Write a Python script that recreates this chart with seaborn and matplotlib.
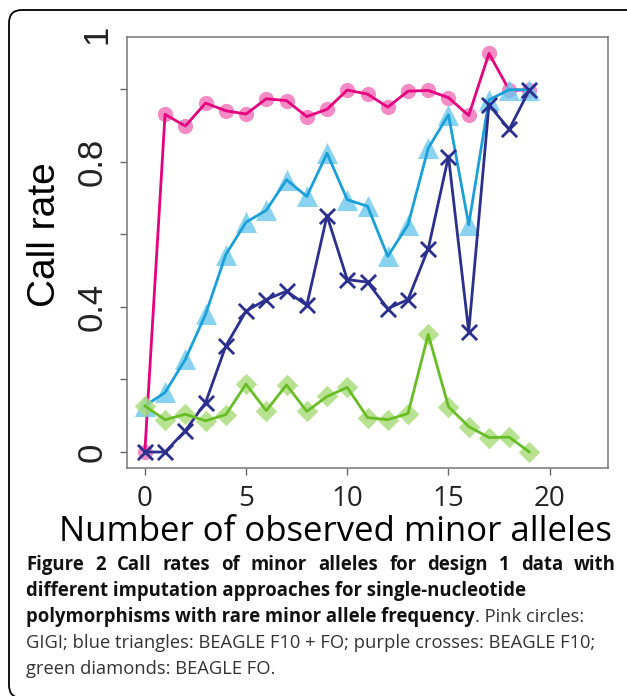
import numpy as np
import pandas as pd
import matplotlib
matplotlib.use('Agg')
import matplotlib.pyplot as plt
from matplotlib.patches import FancyBboxPatch
from matplotlib.transforms import IdentityTransform
import seaborn as sns

# ---- data ----
alleles = list(range(20))
gigi = [0.0, 0.930, 0.898, 0.961, 0.940, 0.931, 0.973, 0.968, 0.924, 0.944,
        0.997, 0.986, 0.950, 0.994, 0.996, 0.976, 0.927, 1.098, 0.997, 0.997]
beagle_f10_fo = [0.127, 0.164, 0.255, 0.379, 0.544, 0.633, 0.666, 0.750, 0.704, 0.823,
                 0.695, 0.677, 0.539, 0.626, 0.837, 0.929, 0.626, 0.970, 0.998, 0.998]
beagle_f10 = [0.0, 0.0, 0.059, 0.136, 0.292, 0.388, 0.420, 0.443, 0.404, 0.651,
              0.475, 0.468, 0.395, 0.420, 0.560, 0.814, 0.331, 0.956, 0.889, 0.998]
beagle_fo = [0.127, 0.089, 0.104, 0.086, 0.103, 0.187, 0.114, 0.185, 0.112, 0.153,
             0.178, 0.095, 0.089, 0.106, 0.324, 0.125, 0.070, 0.040, 0.041, 0.0]

methods = ['GIGI', 'BEAGLE F10 + FO', 'BEAGLE F10', 'BEAGLE FO']
line_colors = ['#E6007E', '#1A9FD9', '#2B2F8E', '#68BD25']
marker_colors = ['#F06EB8', '#6CC8EE', '#2B2F8E', '#A6DB77']
marker_shapes = ['o', '^', 'x', 'D']
marker_sizes = [120, 230, 120, 120]
marker_alpha = [0.8, 0.8, 1.0, 0.8]

yticks = [0, 0.2, 0.4, 0.6, 0.8, 1.0]
ytick_labels = ['0', '', '0.4', '', '0.8', '']
xticks = [0, 5, 10, 15, 20]

df = pd.DataFrame({
    'alleles': alleles * 4,
    'rate': gigi + beagle_f10_fo + beagle_f10 + beagle_fo,
    'method': np.repeat(methods, len(alleles)),
})

# ---- figure ----
sns.set_style('white')
W, H = 627, 696
fig = plt.figure(figsize=(W / 100, H / 100), dpi=100)
ax = fig.add_axes([127 / W, 1 - 468 / H, 481 / W, 431.3 / H])

z = 2
for i, m in enumerate(methods):
    sub = df[df['method'] == m]
    sns.scatterplot(data=sub, x='alleles', y='rate', marker=marker_shapes[i],
                    s=marker_sizes[i], color=marker_colors[i], alpha=marker_alpha[i],
                    linewidth=2 if marker_shapes[i] == 'x' else 0,
                    legend=False, ax=ax, zorder=z)
    sns.lineplot(data=sub, x='alleles', y='rate', color=line_colors[i], lw=2.0,
                 legend=False, ax=ax, zorder=z + 1)
    z += 2

ax.set_xlim(-0.88, 22.88)
ax.set_ylim(-0.044, 1.144)
ax.set_xticks(xticks)
ax.set_xticklabels([str(t) for t in xticks], family='Open Sans', fontsize=20, color='#222222')
ax.set_yticks(yticks)
ax.set_yticklabels(ytick_labels, family='Liberation Sans', fontsize=25,
                   rotation=90, va='center', color='#222222')
# top label sitting above the frame, as in the original
ax.text(-0.0625, 1.15, '1', transform=ax.get_yaxis_transform(), rotation=90,
        ha='center', va='center', family='Liberation Sans', fontsize=25,
        color='#222222', clip_on=False)
ax.tick_params(axis='both', length=5, width=1, color='#666666', direction='out',
               bottom=True, left=True)
ax.tick_params(axis='y', pad=8)
ax.tick_params(axis='x', pad=7)
for sp in ax.spines.values():
    sp.set_color('#777777')
    sp.set_linewidth(1.1)

ax.set_ylabel('Call rate', family='Liberation Sans', fontsize=28, color='black',
              va='center')
ax.yaxis.set_label_coords(-0.1705, 0.54)
ax.set_xlabel('Number of observed minor alleles', family='Open Sans', fontsize=27,
              color='black', va='center')
ax.xaxis.set_label_coords(0.4335, -0.148)

renderer = fig.canvas.get_renderer()

# fit x label width to the original
xl = ax.xaxis.label
wpx = xl.get_window_extent(renderer).width
xl.set_fontsize(27 * 553 / wpx)

# ---- caption ----
cap_family = 'Open Sans'
line2 = 'different imputation approaches for single-nucleotide'
line4 = 'GIGI; blue triangles: BEAGLE F10 + FO; purple crosses: BEAGLE F10;'
probe = fig.text(0, 0, line2, family=cap_family, weight='bold', fontsize=12)
bold_fs = 12 * 498 / probe.get_window_extent(renderer).width
probe.remove()
probe = fig.text(0, 0, line4, family=cap_family, weight='normal', fontsize=12)
reg_fs = 12 * 568 / probe.get_window_extent(renderer).width
probe.remove()

x0, x1 = 26, 616
baselines = [570, 596, 622, 648, 674]
bold_kw = dict(family=cap_family, weight='bold', fontsize=bold_fs, va='baseline',
               color='#111111')
reg_kw = dict(family=cap_family, weight='normal', fontsize=reg_fs, va='baseline',
              color='#333333')


def ypos(px):
    return 1 - px / H


# line 1, justified
words = 'Figure 2 Call rates of minor alleles for design 1 data with'.split()
texts = [fig.text(0, ypos(baselines[0]), w, **bold_kw) for w in words]
widths = [t.get_window_extent(renderer).width for t in texts]
gap = (x1 - x0 - sum(widths)) / (len(words) - 1)
x = x0
for t, w in zip(texts, widths):
    t.set_x(x / W)
    x += w + gap

fig.text(x0 / W, ypos(baselines[1]), line2, **bold_kw)
t3 = fig.text(x0 / W, ypos(baselines[2]),
              'polymorphisms with rare minor allele frequency', **bold_kw)
w3 = t3.get_window_extent(renderer).width
fig.text((x0 + w3) / W, ypos(baselines[2]), '. Pink circles:', **reg_kw)
fig.text(x0 / W, ypos(baselines[3]), line4, **reg_kw)
fig.text(x0 / W, ypos(baselines[4]), 'green diamonds: BEAGLE FO.', **reg_kw)

# rounded frame around the whole panel
frame = FancyBboxPatch((9, -2), 640, H - 8,
                       boxstyle='round,pad=0,rounding_size=13',
                       transform=IdentityTransform(), fill=False,
                       edgecolor='black', linewidth=1.3)
fig.add_artist(frame)

fig.savefig('out.png', dpi=100)
